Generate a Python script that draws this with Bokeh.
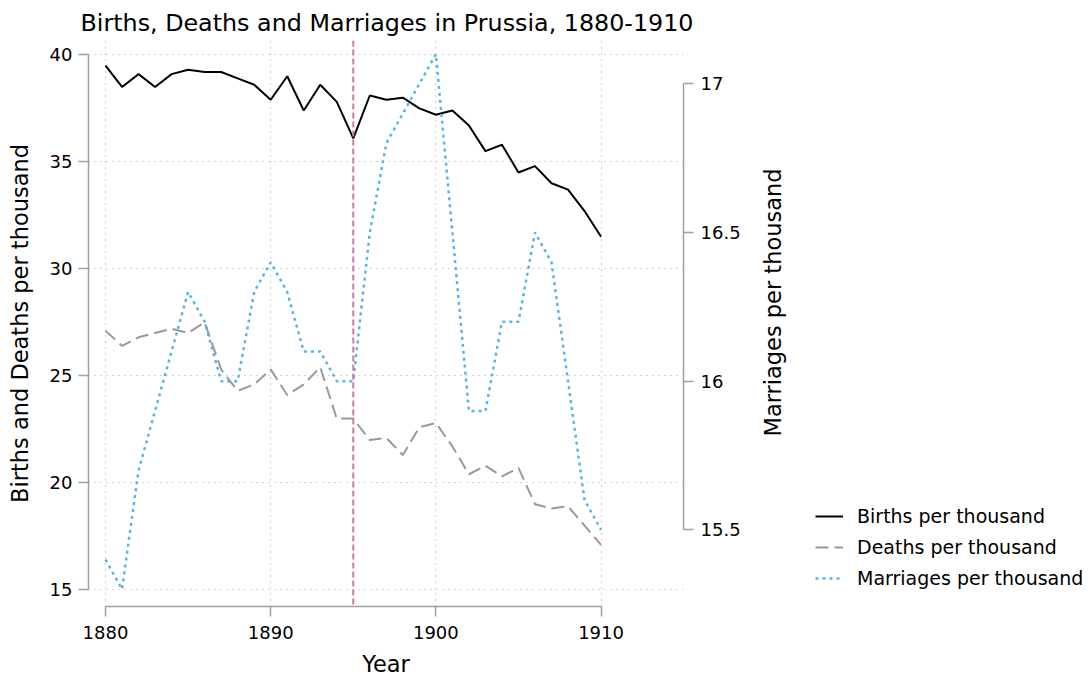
import math
from bokeh.plotting import figure
from bokeh.layouts import row
from bokeh.models import (Range1d, LinearAxis, FixedTicker, NumeralTickFormatter,
                          Span, Legend, LegendItem, Label)
from bokeh.embed import file_html
from bokeh.resources import INLINE

# ---------------- data ----------------
years = list(range(1880, 1911))
births = [39.5, 38.5, 39.1, 38.5, 39.1, 39.3, 39.2, 39.2, 38.9, 38.6,
          37.9, 39.0, 37.4, 38.6, 37.8, 36.1, 38.1, 37.9, 38.0, 37.5,
          37.2, 37.4, 36.7, 35.5, 35.8, 34.5, 34.8, 34.0, 33.7, 32.7, 31.5]
deaths = [27.1, 26.4, 26.8, 27.0, 27.2, 27.0, 27.5, 25.3, 24.3, 24.6,
          25.3, 24.1, 24.6, 25.4, 23.0, 23.0, 22.0, 22.1, 21.3, 22.6,
          22.8, 21.7, 20.4, 20.8, 20.3, 20.7, 19.0, 18.8, 18.9, 18.0, 17.1]
marriages = [15.4, 15.3, 15.7, 15.9, 16.1, 16.3, 16.2, 16.0, 16.0, 16.3,
             16.4, 16.3, 16.1, 16.1, 16.0, 16.0, 16.5, 16.8, 16.9, 17.0,
             17.1, 16.5, 15.9, 15.9, 16.2, 16.2, 16.5, 16.4, 16.0, 15.6, 15.5]
event_year = 1895
x_ticks = [1880, 1890, 1900, 1910]
left_ticks = [15, 20, 25, 30, 35, 40]
right_ticks = [15.5, 16, 16.5, 17]
series_names = ["Births per thousand", "Deaths per thousand", "Marriages per thousand"]
title_text = "Births, Deaths and Marriages in Prussia, 1880-1910"
x_label = "Year"
left_label = "Births and Deaths per thousand"
right_label = "Marriages per thousand"

# ---------------- style ----------------
FONT = "DejaVu Sans"
AXIS_GRAY = "#a0a0a0"
BLUE = "#56B4E9"
GRAY = "#999999"
PINK = "#CC79A7"
STYLES = [dict(line_color="black", line_width=2),
          dict(line_color=GRAY, line_width=2, line_dash="13 6"),
          dict(line_color=BLUE, line_width=2.5, line_dash="3 4")]

W_MAIN = 760
W_SIDE = 1091 - W_MAIN
H = 683
FRAME_TOP, FRAME_BOTTOM = 40, 606

p = figure(width=W_MAIN, height=H, output_backend="svg", toolbar_location=None,
           x_range=Range1d(1878.97, 1914.99), y_range=Range1d(14.22, 40.67),
           min_border_left=88, min_border_right=W_MAIN - 683,
           min_border_top=FRAME_TOP, min_border_bottom=H - FRAME_BOTTOM,
           title=title_text)
p.extra_y_ranges = {"marr": Range1d(15.242, 17.146)}
p.outline_line_color = None
p.background_fill_color = "white"
p.border_fill_color = "white"

p.title.text_font = FONT
p.title.text_font_size = "23.8px"
p.title.text_font_style = "normal"
p.title.text_color = "black"
p.title.align = "left"
p.title.offset = -8
p.title.standoff = 7


def style_axis(ax, label_standoff, axis_label_standoff):
    ax.axis_line_color = AXIS_GRAY
    ax.axis_line_width = 1.5
    ax.major_tick_line_color = AXIS_GRAY
    ax.major_tick_line_width = 1.5
    ax.major_tick_in = 0
    ax.major_tick_out = 10
    ax.minor_tick_line_color = None
    ax.minor_tick_out = 0
    ax.minor_tick_in = 0
    ax.major_label_text_font = FONT
    ax.major_label_text_font_size = "18px"
    ax.major_label_text_color = "black"
    ax.major_label_standoff = label_standoff
    ax.axis_label_text_font = FONT
    ax.axis_label_text_font_size = "22.5px"
    ax.axis_label_text_font_style = "normal"
    ax.axis_label_text_color = "black"
    ax.axis_label_standoff = axis_label_standoff


xax = p.xaxis[0]
xax.ticker = FixedTicker(ticks=x_ticks)
xax.bounds = (x_ticks[0], x_ticks[-1])
xax.axis_label = x_label
style_axis(xax, 9, 9)

yax = p.yaxis[0]
yax.ticker = FixedTicker(ticks=left_ticks)
yax.bounds = (left_ticks[0], left_ticks[-1])
yax.axis_label = left_label
style_axis(yax, 6, 14)

rax = LinearAxis(y_range_name="marr", ticker=FixedTicker(ticks=right_ticks),
                 formatter=NumeralTickFormatter(format="0.[0]"))
rax.bounds = (right_ticks[0], right_ticks[-1])
style_axis(rax, 7, 0)
p.add_layout(rax, "right")

for g in (p.xgrid[0], p.ygrid[0]):
    g.grid_line_color = "#aaaaaa"
    g.grid_line_width = 1.2
    g.grid_line_dash = "1 5"
p.xgrid[0].ticker = FixedTicker(ticks=x_ticks)
p.ygrid[0].ticker = FixedTicker(ticks=left_ticks)

p.line(years, births, **STYLES[0])
p.line(years, deaths, **STYLES[1])
p.line(years, marriages, y_range_name="marr", **STYLES[2])

p.add_layout(Span(location=event_year, dimension="height", line_color=PINK,
                  line_width=2, line_dash="6 3"))

# ---------- side panel: right-axis title + legend ----------
# (its frame is aligned with the main frame: y from FRAME_TOP to FRAME_BOTTOM)
p2 = figure(width=W_SIDE, height=H, output_backend="svg", toolbar_location=None,
            x_range=Range1d(0, 1), y_range=Range1d(0, 1), title=None,
            x_axis_type=None, y_axis_type=None,
            min_border_left=0, min_border_right=0, min_border_top=0,
            min_border_bottom=0)
p2.outline_line_color = None
p2.grid.visible = False
p2.background_fill_color = "white"
p2.border_fill_color = "white"

p2.add_layout(Label(x=772 - W_MAIN, y=FRAME_BOTTOM - 302,
                    x_units="screen", y_units="screen",
                    text=right_label, angle=math.pi / 2, text_align="center",
                    text_baseline="middle", text_font=FONT,
                    text_font_size="22.5px", text_color="black"))

nan = float("nan")
proxies = [p2.line([nan], [nan], **st) for st in STYLES]
legend = Legend(items=[LegendItem(label=n, renderers=[r])
                       for n, r in zip(series_names, proxies)],
                location=(815 - W_MAIN, FRAME_BOTTOM - 592))
legend.border_line_color = None
legend.background_fill_alpha = 0
legend.padding = 0
legend.margin = 0
legend.spacing = 3
legend.glyph_width = 28
legend.glyph_height = 28
legend.label_height = 28
legend.label_standoff = 14
legend.label_text_font = FONT
legend.label_text_font_size = "19px"
legend.label_text_color = "black"
legend.label_text_baseline = "middle"
p2.add_layout(legend, "center")

layout = row(p, p2, spacing=0)
open("out.html", "w").write(file_html(layout, INLINE))
